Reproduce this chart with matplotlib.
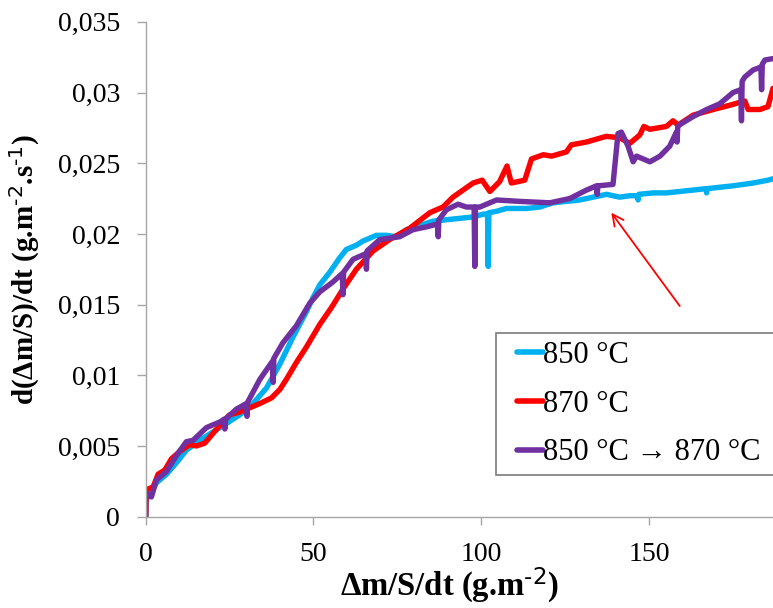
import matplotlib
matplotlib.use("Agg")
import matplotlib.pyplot as plt
from matplotlib.lines import Line2D
from matplotlib.legend_handler import HandlerBase

plt.rcParams['font.family'] = ['Liberation Serif', 'DejaVu Serif', 'DejaVu Sans']
plt.rcParams['mathtext.default'] = 'regular'

# ---- data ----
cyan_x = [0, 0, 0.7, 3.2, 6.2, 9.1, 12.1, 16.1, 20.1, 24.1,
          28.0, 32.0, 36.0, 40.0, 43.9, 47.9, 49.9, 51.9, 54.9, 57.8,
          59.8, 62.8, 64.8, 68.8, 71.8, 74.7, 77.7, 81.7, 85.7, 89.6,
          93.6, 97.6, 100.6, 101.9, 102.1, 102.3, 104.6, 107.5, 109.5, 113.5,
          117.5, 121.4, 125.4, 129.4, 133.4, 137.4, 141.3, 144.3, 146.6, 146.8,
          147.0, 151.3, 155.2, 159.2, 163.2, 167.0, 167.2, 167.4, 171.1, 175.1,
          178.1, 181.1, 185.5, 187]
cyan_y = [0, 0.0012, 0.0014, 0.0024, 0.0030, 0.0038, 0.0047, 0.0054, 0.0060, 0.0066,
          0.0072, 0.0080, 0.0091, 0.0108, 0.0127, 0.0145, 0.0155, 0.0164, 0.0173, 0.0183,
          0.0189, 0.0192, 0.0195, 0.0199, 0.0199, 0.0198, 0.0203, 0.0206, 0.0209, 0.0210,
          0.0211, 0.0212, 0.0214, 0.0214, 0.0177, 0.0215, 0.0216, 0.0218, 0.0218, 0.0218,
          0.0219, 0.0222, 0.0223, 0.0224, 0.0226, 0.0228, 0.0226, 0.0227, 0.0227, 0.0224,
          0.0228, 0.0229, 0.0229, 0.0230, 0.0231, 0.0232, 0.0229, 0.0232, 0.0233, 0.0234,
          0.0235, 0.0236, 0.0238, 0.0239]

red_x = [0, 0.2, 2.2, 3.7, 5.7, 7.7, 10.1, 13.1, 15.1, 17.6,
         20.1, 23.0, 25.0, 28.0, 31.0, 34.0, 37.5, 40.0, 41.9, 44.9,
         47.9, 51.9, 55.4, 58.8, 62.8, 67.8, 72.7, 78.7, 84.7, 88.6,
         91.6, 94.6, 97.6, 100.3, 102.6, 105.5, 107.7, 109.0, 113.0, 115.0,
         118.5, 121.0, 125.4, 126.9, 131.4, 137.3, 141.3, 144.3, 147.3, 148.5,
         150.3, 155.2, 157.2, 158.7, 163.2, 169.2, 174.1, 178.6, 179.6, 183.1,
         185.5, 187]
red_y = [0, 0.0019, 0.0021, 0.0030, 0.0033, 0.0041, 0.0046, 0.0051, 0.0050, 0.0052,
         0.0059, 0.0067, 0.0072, 0.0074, 0.0077, 0.0080, 0.0084, 0.0090, 0.0097, 0.0109,
         0.0120, 0.0136, 0.0148, 0.0161, 0.0175, 0.0188, 0.0196, 0.0204, 0.0215, 0.0219,
         0.0226, 0.0231, 0.0236, 0.0238, 0.0230, 0.0237, 0.0248, 0.0236, 0.0238, 0.0253,
         0.0256, 0.0255, 0.0258, 0.0263, 0.0265, 0.0269, 0.0268, 0.0264, 0.0270, 0.0276,
         0.0274, 0.0276, 0.0280, 0.0277, 0.0284, 0.0288, 0.0291, 0.0294, 0.0288, 0.0288,
         0.0290, 0.0303]

purple_x = [0, 0, 1.7, 3.2, 6.2, 9.1, 12.1, 14.1, 18.1, 22.1,
            23.4, 23.6, 23.8, 27.0, 30.0, 30.2, 30.4, 34.0, 37.8, 38.0,
            38.2, 40.9, 44.9, 48.9, 51.9, 55.8, 58.6, 58.8, 59.0, 61.8,
            65.6, 65.8, 66.0, 69.8, 75.7, 79.7, 83.7, 87.0, 87.2, 87.4,
            89.6, 93.1, 95.6, 97.9, 98.1, 98.3, 99.6, 104.6, 111.5, 120.5,
            126.4, 131.4, 134.4, 134.6, 134.8, 139.3, 140.8, 141.8, 143.8, 145.3,
            146.3, 150.3, 153.3, 156.2, 158.2, 158.4, 158.6, 159.7, 163.2, 167.2,
            171.1, 175.1, 177.4, 177.6, 177.8, 178.6, 181.1, 183.4, 183.6, 183.8,
            184.6, 187]
purple_y = [0, 0.0017, 0.0014, 0.0026, 0.0032, 0.0043, 0.0053, 0.0054, 0.0063, 0.0067,
            0.0069, 0.0062, 0.0069, 0.0076, 0.0080, 0.0071, 0.0081, 0.0097, 0.0110, 0.0095,
            0.0112, 0.0123, 0.0135, 0.0151, 0.0159, 0.0166, 0.0172, 0.0157, 0.0173, 0.0182,
            0.0186, 0.0175, 0.0188, 0.0196, 0.0198, 0.0203, 0.0205, 0.0207, 0.0198, 0.0210,
            0.0217, 0.0221, 0.0219, 0.0219, 0.0177, 0.0219, 0.0219, 0.0224, 0.0223, 0.0222,
            0.0225, 0.0231, 0.0234, 0.0228, 0.0234, 0.0235, 0.0271, 0.0272, 0.0262, 0.0251,
            0.0255, 0.0251, 0.0255, 0.0262, 0.0272, 0.0265, 0.0276, 0.0278, 0.0283, 0.0288,
            0.0292, 0.0300, 0.0302, 0.0280, 0.0308, 0.0311, 0.0316, 0.0318, 0.0302, 0.0320,
            0.0323, 0.0324]

labels = ['850 °C', '870 °C', '850 °C → 870 °C']
colors = ['#00B0F0', '#FF0000', '#7030A0']

x_ticks = [0, 50, 100, 150]
y_ticks = [0, 0.005, 0.01, 0.015, 0.02, 0.025, 0.03, 0.035]
y_tick_labels = ['0', '0,005', '0,01', '0,015', '0,02', '0,025', '0,03', '0,035']

arrow_head = (138.8, 0.0215)
arrow_tail = (159.2, 0.0149)


class OffsetLineHandler(HandlerBase):
    """Legend handle drawn only on the right part of the handle box."""
    def create_artists(self, legend, orig_handle, xdescent, ydescent,
                       width, height, fontsize, trans):
        y = height / 2.0 - ydescent
        x0 = -xdescent + width * 0.34
        x1 = -xdescent + width
        ln = Line2D([x0, x1], [y, y], color=orig_handle.get_color(), lw=4.0,
                    solid_capstyle='round', transform=trans)
        return [ln]


# ---- figure ----
fig = plt.figure(figsize=(7.73, 6.08), dpi=100)
ax = fig.add_axes([0.1885, 0.1502, 0.8115, 0.8139])

series = [(cyan_x, cyan_y), (red_x, red_y), (purple_x, purple_y)]
handles = []
for (xs, ys), lab, col in zip(series, labels, colors):
    h, = ax.plot(xs, ys, color=col, lw=3.9, label=lab,
                 solid_capstyle='round', solid_joinstyle='round')
    handles.append(h)

ax.set_xlim(0, 187)
ax.set_ylim(0, 0.035)
ax.set_xticks(x_ticks)
ax.set_xticklabels([str(t) for t in x_ticks])
ax.set_yticks(y_ticks)
ax.set_yticklabels(y_tick_labels)

for s in ['top', 'right']:
    ax.spines[s].set_visible(False)
for s in ['left', 'bottom']:
    ax.spines[s].set_color('#a6a6a6')
    ax.spines[s].set_linewidth(1.0)
ax.tick_params(axis='both', direction='out', width=1.0,
               color='#a6a6a6', labelsize=20, labelcolor='black')
ax.tick_params(axis='x', length=6, pad=12)
ax.tick_params(axis='y', length=6.5, pad=12)

ax.set_xlabel('Δm/S/dt (g.m$^{\\text{-2}}$)', fontsize=23.5, fontweight='bold')
ax.set_ylabel('d(Δm/S)/dt (g.m$^{\\text{-2}}$.s$^{\\text{-1}}$)', fontsize=21,
              fontweight='bold')
ax.xaxis.set_label_coords(0.4835, -0.099)
ax.yaxis.set_label_coords(-0.165, 0.5)

ax.annotate('', xy=arrow_head, xytext=arrow_tail,
            arrowprops=dict(arrowstyle='->', color='#FF0000', lw=1.3,
                            mutation_scale=20, shrinkA=0, shrinkB=0))

leg = ax.legend(handles, labels, loc='upper left',
                bbox_to_anchor=(0.6413, 0.227, 0.45, 0.2253),
                bbox_transform=fig.transFigure, mode='expand', borderaxespad=0,
                fontsize=22, frameon=True, fancybox=False, handlelength=1.3,
                handletextpad=0.0, labelspacing=0.65, borderpad=0.25,
                handler_map={Line2D: OffsetLineHandler()})
leg.get_frame().set_edgecolor('#595959')
leg.get_frame().set_linewidth(1.2)

fig.savefig('out.png', dpi=100)
